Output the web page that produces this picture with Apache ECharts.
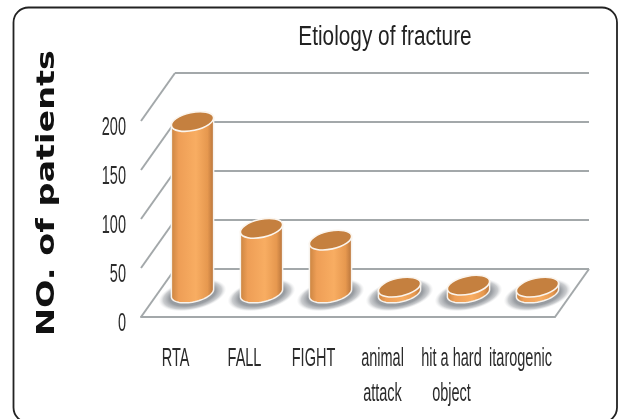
<!DOCTYPE html>
<html><head><meta charset="utf-8">
<style>html,body{margin:0;padding:0;background:#fff}#c{width:618px;height:419px}</style>
<script src="https://cdn.jsdelivr.net/npm/echarts@6/dist/echarts.min.js"></script>
</head><body><div id="c"></div>
<script>
const categories = ['RTA','FALL','FIGHT','animal\nattack','hit a hard\nobject','itarogenic'];
const patientCounts = [175,66,54,6,8,6];
const yTicks = [0,50,100,150,200];
const titleText = 'Etiology of fracture';
const yAxisName = 'NO. of patients';

const DX=34, DY=-48, RX=21.5, RY=9, TILT=12*Math.PI/180;
const sn=Math.sin(TILT), cs=Math.cos(TILT);
const T0=Math.atan2(RY*sn,RX*cs);
const font='"Liberation Sans",sans-serif';

function rim(cx,cy,t){
  return [cx+RX*Math.cos(t)*cs+RY*Math.sin(t)*sn, cy-RX*Math.cos(t)*sn+RY*Math.sin(t)*cs];
}
function wall(params,api){
  const r=params.coordSys, v=api.value(0);
  const y=api.coord([0,v])[1], xl=r.x, xr=r.x+r.width;
  const st={stroke:'#a3a8aa',lineWidth:2,fill:null};
  const ch=[
    {type:'line',shape:{x1:xl,y1:y,x2:xl+DX,y2:y+DY},style:st},
    {type:'line',shape:{x1:xl+DX,y1:y+DY,x2:xr+DX,y2:y+DY},style:st}];
  if(v===0) ch.push({type:'line',shape:{x1:xr,y1:y,x2:xr+DX,y2:y+DY},style:st});
  return {type:'group',children:ch};
}
function cyl(params,api){
  const i=api.value(0), v=api.value(1);
  const b=api.coord([i,0]), t=api.coord([i,v]);
  const cx=b[0]+DX/2, by=b[1]+DY/2, ty=t[1]+DY/2;
  const w=RX;
  const grad={type:'linear',x:cx-w,y:0,x2:cx+w,y2:0,global:true,colorStops:[
    {offset:0,color:'#c98340'},{offset:.18,color:'#ee9e56'},{offset:.58,color:'#f8ad62'},
    {offset:.85,color:'#e6984f'},{offset:1,color:'#b5723a'}]};
  const shadow={type:'radial',x:.5,y:.5,r:.5,colorStops:[
    {offset:0,color:'#8b8f94'},{offset:.68,color:'#999da2'},{offset:.86,color:'rgba(175,178,182,.65)'},{offset:1,color:'rgba(220,222,224,0)'}]};
  const pts=[rim(cx,ty,T0+Math.PI),rim(cx,ty,T0)];
  for(let k=0;k<=32;k++) pts.push(rim(cx,by,T0+Math.PI*k/32));
  const ell=(x,y,rx,ry,style)=>({type:'ellipse',x:x,y:y,rotation:TILT,shape:{cx:0,cy:0,rx:rx,ry:ry},style:style});
  return {type:'group',children:[
    {type:'circle',x:cx,y:by+2,rotation:TILT,scaleX:2.3,scaleY:1,shape:{cx:0,cy:0,r:15},style:{fill:shadow}},
    {type:'polygon',shape:{points:pts},style:{fill:grad,stroke:'#f7f3ee',lineWidth:1.5}},
    ell(cx,ty,RX,RY,{fill:'#c5803f',stroke:'#fbf5ee',lineWidth:1.6})
  ]};
}
function yLabel(params,api){
  const v=api.value(0), p=api.coord([0,v]);
  return {type:'text',x:126,y:p[1]+7,scaleX:.58,
    style:{text:String(v),fontFamily:font,fontSize:25,fill:'#2b2b2b',textAlign:'right',textVerticalAlign:'middle'}};
}
function xLabel(params,api){
  const i=api.value(0), p=api.coord([i,0]);
  return {type:'text',x:p[0],y:342,scaleX:.58,
    style:{text:categories[i],fontFamily:font,fontSize:25,lineHeight:35,fill:'#2b2b2b',textAlign:'center',textVerticalAlign:'top'}};
}
const chart=echarts.init(document.getElementById('c'),null,{renderer:'canvas'});
chart.setOption({
  animation:false,
  backgroundColor:'#fff',
  graphic:[
    {type:'rect',shape:{x:13.5,y:7.5,width:603.5,height:415,r:15},
     style:{fill:'none',stroke:'#222',lineWidth:1.8},z:100},
    {type:'text',x:385,y:38,scaleX:.77,
     style:{text:titleText,fontFamily:font,fontSize:27,fill:'#222',textAlign:'center',textVerticalAlign:'middle'},z:100},
    {type:'text',x:47,y:193,rotation:Math.PI/2,scaleX:1.34,
     style:{text:yAxisName,fontFamily:'"DejaVu Sans",sans-serif',fontWeight:'bold',fontSize:25,fill:'#111',textAlign:'center',textVerticalAlign:'middle'},z:100}
  ],
  grid:{left:141,top:121,width:414,height:196},
  xAxis:{type:'category',data:categories,
    axisLine:{show:true,lineStyle:{color:'#a3a8aa',width:2}},axisTick:{show:false},axisLabel:{show:false}},
  yAxis:{type:'value',min:0,max:200,interval:50,
    axisLine:{show:false},axisTick:{show:false},splitLine:{show:false},axisLabel:{show:false}},
  series:[
    {type:'custom',coordinateSystem:'cartesian2d',data:yTicks.map(v=>[v]),renderItem:wall,silent:true,z:1,encode:{y:0}},
    {type:'custom',coordinateSystem:'cartesian2d',data:patientCounts.map((v,i)=>[i,v]),renderItem:cyl,z:2,encode:{x:0,y:1}},
    {type:'custom',coordinateSystem:'cartesian2d',data:yTicks.map(v=>[v]),renderItem:yLabel,silent:true,z:3,encode:{y:0}},
    {type:'custom',coordinateSystem:'cartesian2d',data:categories.map((c,i)=>[i]),renderItem:xLabel,silent:true,z:3,encode:{x:0}}
  ]
});
</script></body></html>
